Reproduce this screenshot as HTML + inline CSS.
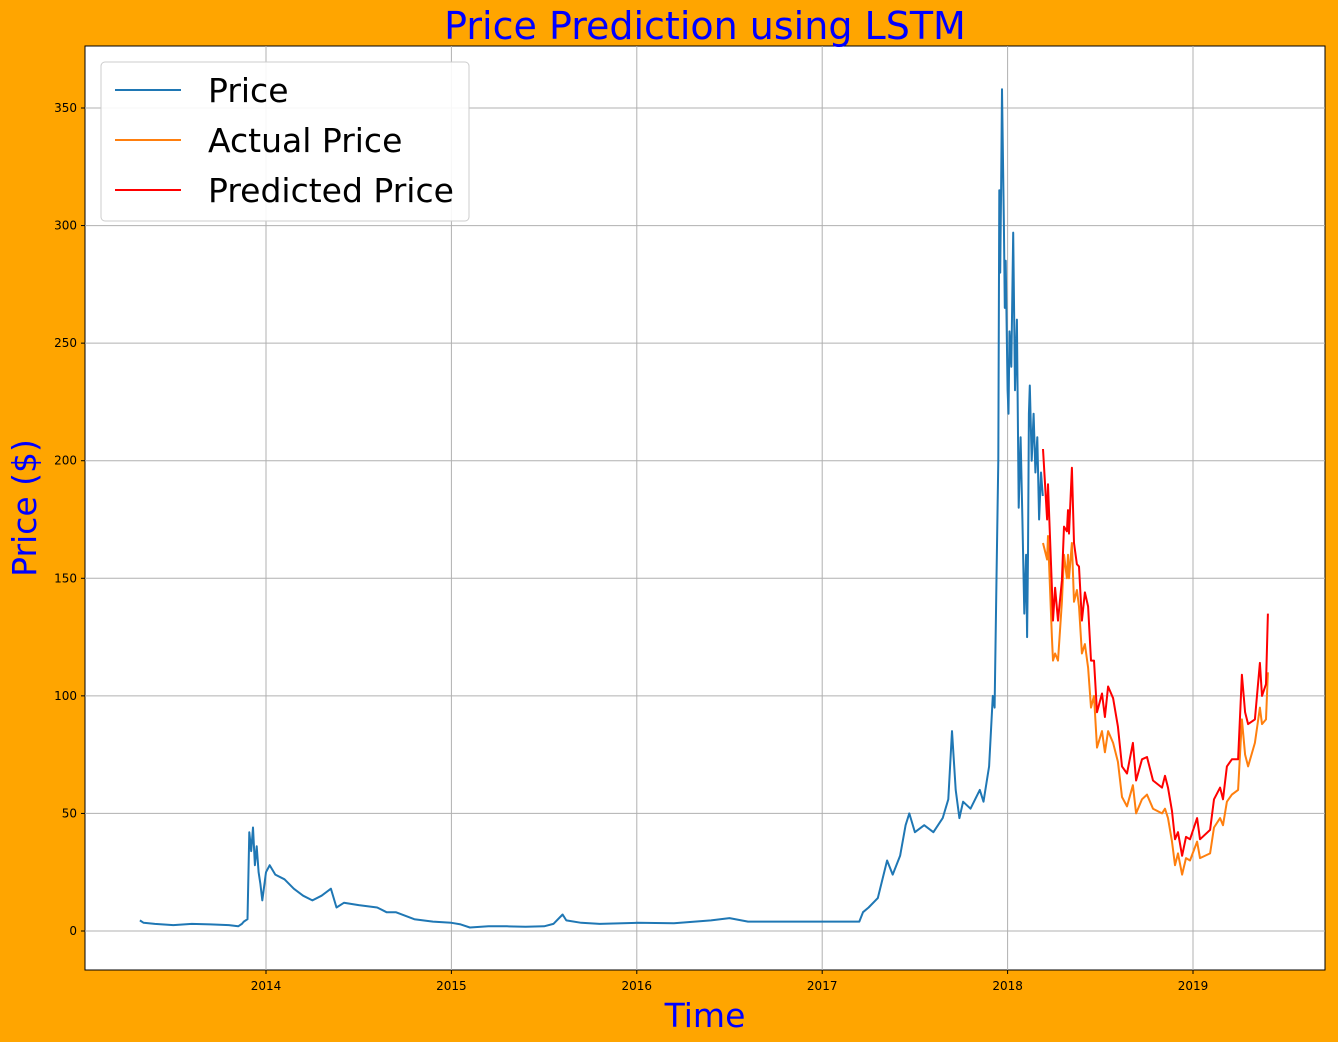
<!DOCTYPE html>
<html><head><meta charset="utf-8"><style>
html,body{margin:0;padding:0;background:#FFA500;}
svg{display:block;font-family:"DejaVu Sans","Liberation Sans",sans-serif;}
</style></head><body>
<svg id="chart" width="1338" height="1042" xmlns="http://www.w3.org/2000/svg">
<rect x="0" y="0" width="1338" height="1042" fill="#FFA500"/>
<rect x="85" y="46" width="1240" height="924" fill="#ffffff" stroke="#000" stroke-width="1"/>
<g id="grid"></g>
<g id="series"></g>
<g id="axes"></g>
<text x="705" y="39" text-anchor="middle" font-size="38" fill="#0000ff">Price Prediction using LSTM</text>
<text x="705" y="1027" text-anchor="middle" font-size="33" fill="#0000ff">Time</text>
<text transform="translate(36,508) rotate(-90)" text-anchor="middle" font-size="33" fill="#0000ff">Price ($)</text>
<g>
<rect x="101" y="62" width="368" height="159" rx="4" fill="#fff" fill-opacity="0.9" stroke="#ccc"/>
<g><line x1="115" y1="90" x2="181" y2="90" stroke="#1f77b4" stroke-width="2"/><text x="208" y="102" font-size="33">Price</text></g>
<g><line x1="115" y1="140" x2="181" y2="140" stroke="#ff7f0e" stroke-width="2"/><text x="208" y="152" font-size="33">Actual Price</text></g>
<g><line x1="115" y1="190" x2="181" y2="190" stroke="#ff0000" stroke-width="2"/><text x="208" y="202" font-size="33">Predicted Price</text></g>
</g>
</svg>
<script>
const yTicks = [0,50,100,150,200,250,300,350];
const xTicks = [2014,2015,2016,2017,2018,2019];
const priceT = [2013.32,2013.34,2013.4,2013.5,2013.6,2013.7,2013.8,2013.85,2013.87,2013.88,2013.9,2013.91,2013.92,2013.93,2013.94,2013.95,2013.96,2013.97,2013.98,2014.0,2014.02,2014.05,2014.1,2014.15,2014.2,2014.25,2014.3,2014.35,2014.38,2014.42,2014.5,2014.6,2014.65,2014.7,2014.8,2014.9,2015.0,2015.05,2015.1,2015.2,2015.3,2015.4,2015.5,2015.55,2015.6,2015.62,2015.7,2015.8,2016.0,2016.2,2016.4,2016.5,2016.6,2016.8,2017.0,2017.2,2017.22,2017.25,2017.3,2017.35,2017.38,2017.42,2017.45,2017.47,2017.5,2017.55,2017.6,2017.65,2017.68,2017.7,2017.72,2017.74,2017.76,2017.8,2017.85,2017.87,2017.9,2017.92,2017.93,2017.94,2017.95,2017.955,2017.96,2017.965,2017.97,2017.98,2017.985,2017.99,2018.0,2018.005,2018.01,2018.02,2018.03,2018.04,2018.05,2018.06,2018.07,2018.08,2018.09,2018.1,2018.105,2018.11,2018.115,2018.12,2018.13,2018.14,2018.15,2018.16,2018.17,2018.18,2018.19];
const priceV = [4.5,3.5,3,2.5,3,2.8,2.5,2,3,4,5,42,34,44,28,36,25,20,13,25,28,24,22,18,15,13,15,18,10,12,11,10,8,8,5,4,3.5,2.8,1.5,2,2,1.8,2,3,7,4.5,3.5,3,3.5,3.3,4.5,5.5,4,4,4,4,8,10,14,30,24,32,45,50,42,45,42,48,56,85,60,48,55,52,60,55,70,100,95,150,200,315,280,315,358,300,265,285,230,220,255,240,297,230,260,180,210,175,135,160,125,160,220,232,200,220,195,210,175,195,185];
const predT = [2018.191,2018.213,2018.218,2018.239,2018.245,2018.256,2018.272,2018.293,2018.304,2018.320,2018.326,2018.331,2018.347,2018.358,2018.374,2018.385,2018.401,2018.417,2018.434,2018.450,2018.466,2018.482,2018.509,2018.525,2018.542,2018.569,2018.595,2018.617,2018.644,2018.676,2018.693,2018.725,2018.752,2018.784,2018.833,2018.849,2018.865,2018.887,2018.903,2018.919,2018.941,2018.962,2018.984,2019.022,2019.038,2019.092,2019.113,2019.146,2019.162,2019.183,2019.210,2019.243,2019.264,2019.281,2019.297,2019.334,2019.361,2019.372,2019.394,2019.404];
const actualV = [165,158,168,125,115,118,115,140,160,150,160,150,165,140,145,138,118,122,112,95,100,78,85,76,85,80,72,57,53,62,50,56,58,52,50,52,48,38,28,33,24,31,30,38,31,33,44,48,45,55,58,60,90,75,70,80,95,88,90,110];
const predV = [205,175,190,146,132,146,132,149,172,170,179,169,197,165,156,155,132,144,138,115,115,93,101,91,104,99,87,70,67,80,64,73,74,64,61,66,61,51,39,42,32,40,39,48,39,43,56,61,56,70,73,73,109,93,88,90,114,100,105,135];

const NS='http://www.w3.org/2000/svg';
function xScale(t){return 266+(t-2014)*185.4;}
function yScale(v){return 931-v*(823/350);}
const grid=document.getElementById('grid'),axes=document.getElementById('axes'),series=document.getElementById('series');
function mk(tag,attrs,parent){const e=document.createElementNS(NS,tag);for(const k in attrs)e.setAttribute(k,attrs[k]);parent.appendChild(e);return e;}
yTicks.forEach(v=>{
  const y=yScale(v);
  const g=mk('line',{x1:85,x2:1325,y1:y,y2:y,stroke:'#b0b0b0','stroke-width':1},grid);
  
  
  mk('line',{x1:81,x2:85,y1:y,y2:y,stroke:'#000'},axes);
  const t=mk('text',{x:77,y:y+4,'text-anchor':'end','font-size':12},axes);
  t.textContent=v;
  
  
});
xTicks.forEach(v=>{
  const x=xScale(v);
  const g=mk('line',{x1:x,x2:x,y1:46,y2:970,stroke:'#b0b0b0','stroke-width':1},grid);
  
  
  mk('line',{x1:x,x2:x,y1:970,y2:974,stroke:'#000'},axes);
  const t=mk('text',{x:x,y:990,'text-anchor':'middle','font-size':12},axes);
  t.textContent=v;
  
  
});
function line(ts,vs,color,name){
  const d=ts.map((t,i)=>(i?'L':'M')+xScale(t).toFixed(1)+','+yScale(vs[i]).toFixed(1)).join('');
  const p=mk('path',{d:d,fill:'none',stroke:color,'stroke-width':2,'stroke-linejoin':'round'},series);
  
  
}
line(priceT,priceV,'#1f77b4','price-line');
line(predT,actualV,'#ff7f0e','actual-price-line');
line(predT,predV,'#ff0000','predicted-price-line');
</script>
</body></html>
